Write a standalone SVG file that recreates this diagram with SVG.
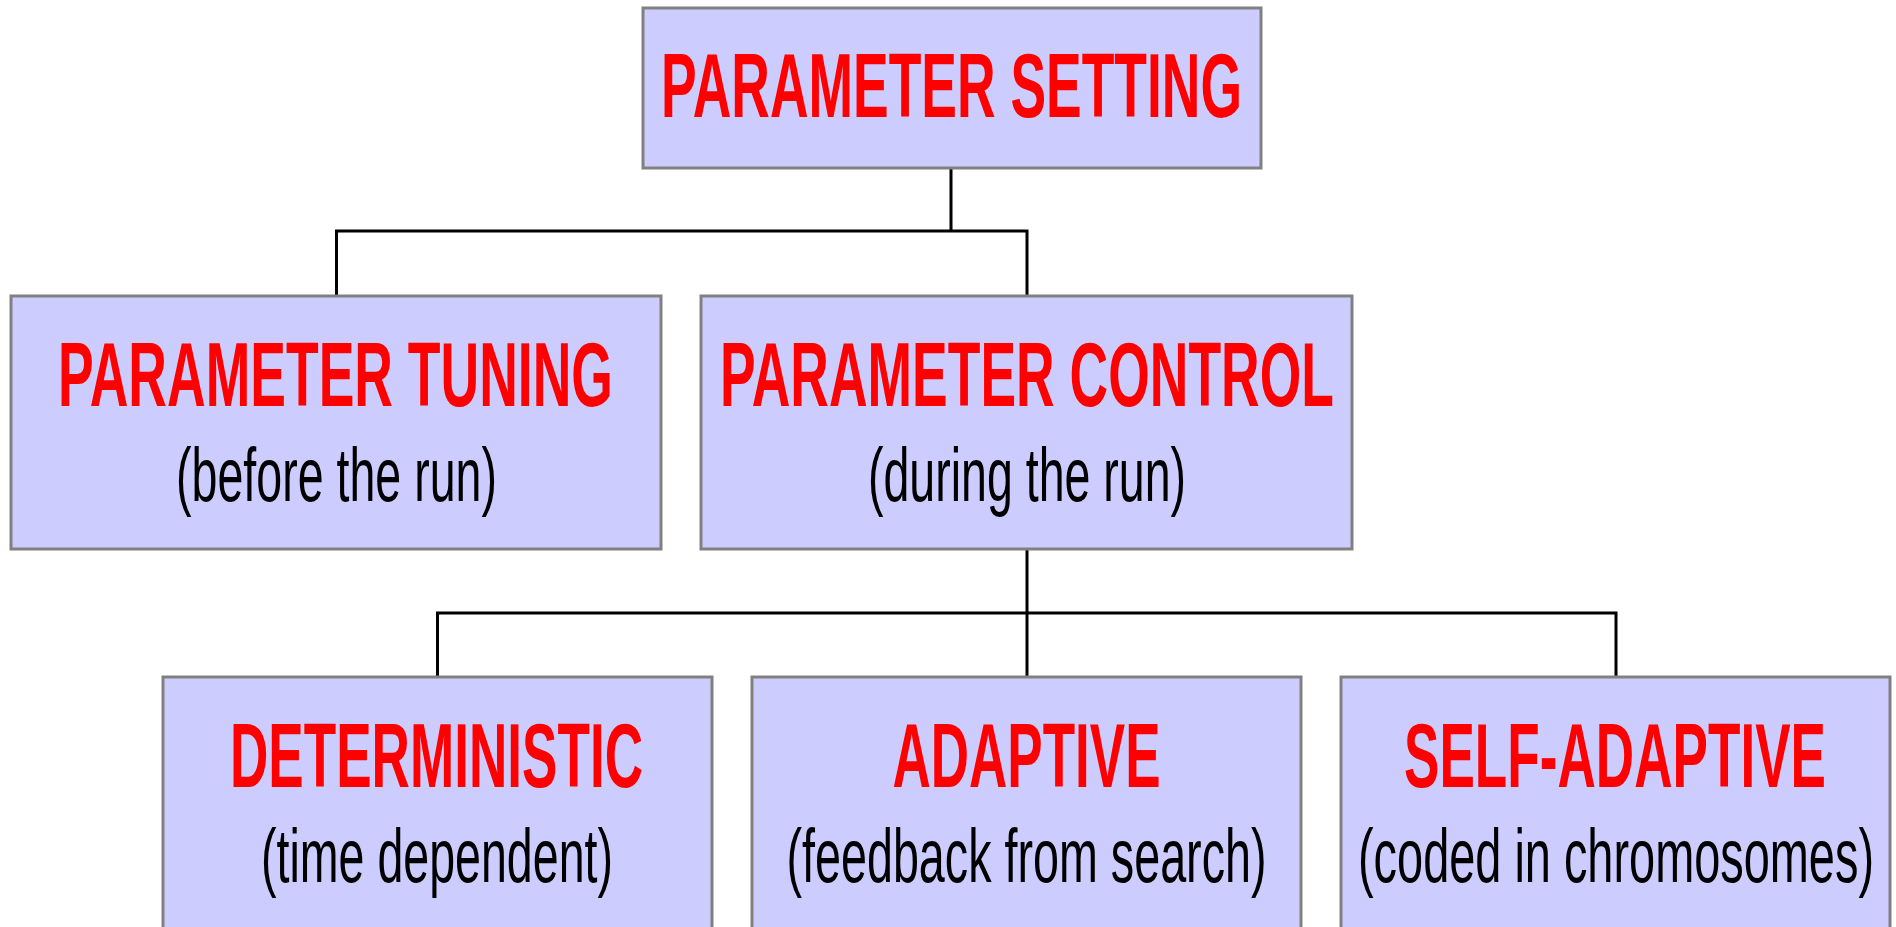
<svg xmlns="http://www.w3.org/2000/svg" width="1896" height="927" viewBox="0 0 1896 927">
<style>
.box{fill:#CCCCFF;stroke:#808080;stroke-width:3}
.t{font-family:"Liberation Sans Narrow","Liberation Sans",Arial,sans-serif;font-weight:bold;font-size:90px;fill:#FF0000;text-anchor:middle}
.s{font-family:"Liberation Sans Narrow","Liberation Sans",Arial,sans-serif;font-size:76px;fill:#000000;text-anchor:middle}
.c{fill:none;stroke:#000000;stroke-width:3}
</style>
<rect width="1896" height="927" fill="#FFFFFF"/>
<g id="connectors">
<path class="c" d="M951 168 V231 M336.5 296 V231 H1027 V296"/>
<path class="c" d="M1027 549 V677 M437.5 677 V613 H1616 V677"/>
</g>
<g id="setting">
<rect class="box" x="643" y="8" width="618" height="160"/>
<text class="t" x="951.5" y="117" textLength="581" lengthAdjust="spacingAndGlyphs">PARAMETER SETTING</text>
</g>
<g id="tuning">
<rect class="box" x="11" y="296" width="650" height="253"/>
<text class="t" x="335.5" y="406" textLength="555" lengthAdjust="spacingAndGlyphs">PARAMETER TUNING</text>
<text class="s" x="336.5" y="501" textLength="321" lengthAdjust="spacingAndGlyphs">(before the run)</text>
</g>
<g id="control">
<rect class="box" x="701" y="296" width="651" height="253"/>
<text class="t" x="1027" y="406" textLength="614" lengthAdjust="spacingAndGlyphs">PARAMETER CONTROL</text>
<text class="s" x="1027" y="501" textLength="318" lengthAdjust="spacingAndGlyphs">(during the run)</text>
</g>
<g id="deterministic">
<rect class="box" x="163" y="677" width="549" height="270"/>
<text class="t" x="436.5" y="787" textLength="413" lengthAdjust="spacingAndGlyphs">DETERMINISTIC</text>
<text class="s" x="437" y="882" textLength="352" lengthAdjust="spacingAndGlyphs">(time dependent)</text>
</g>
<g id="adaptive">
<rect class="box" x="752" y="677" width="549" height="270"/>
<text class="t" x="1026.5" y="787" textLength="268" lengthAdjust="spacingAndGlyphs">ADAPTIVE</text>
<text class="s" x="1026.5" y="882" textLength="480" lengthAdjust="spacingAndGlyphs">(feedback from search)</text>
</g>
<g id="selfadaptive">
<rect class="box" x="1341" y="677" width="549" height="270"/>
<text class="t" x="1615" y="787" textLength="422" lengthAdjust="spacingAndGlyphs">SELF-ADAPTIVE</text>
<text class="s" x="1616" y="882" textLength="516" lengthAdjust="spacingAndGlyphs">(coded in chromosomes)</text>
</g>
</svg>
